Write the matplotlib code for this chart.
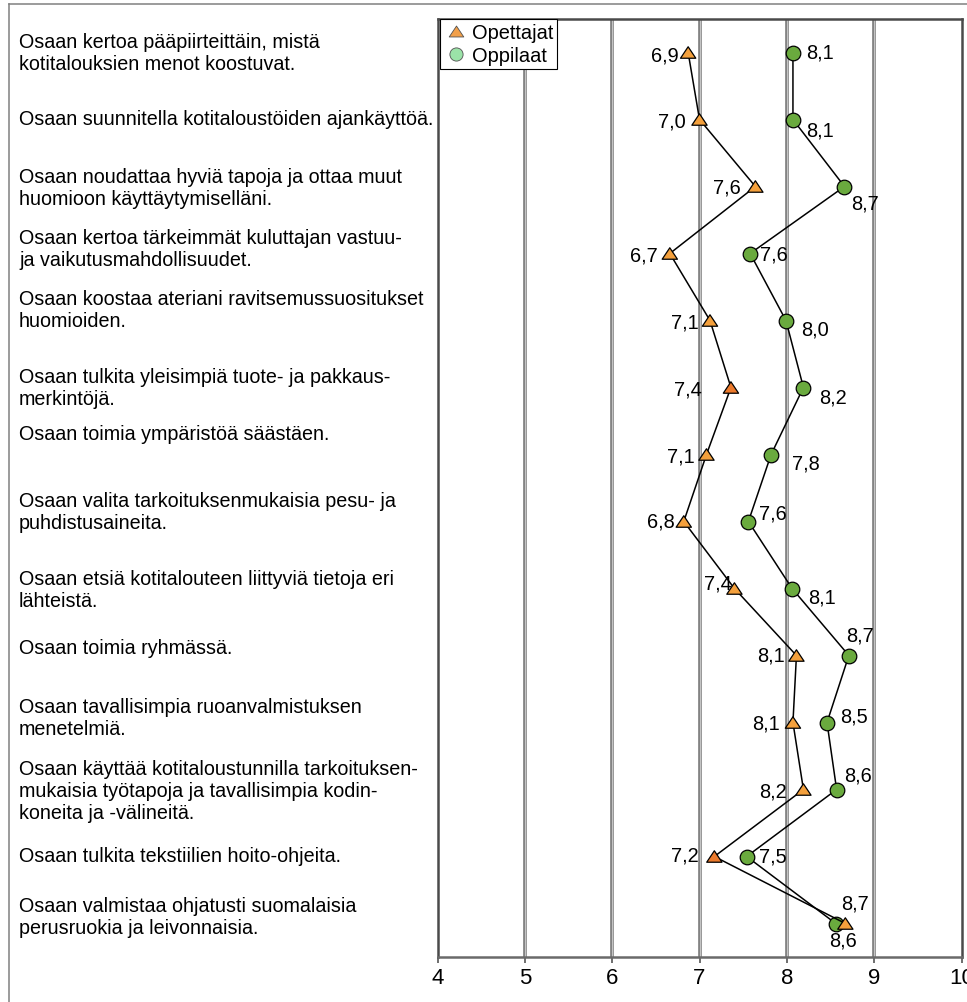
import matplotlib
matplotlib.use('Agg')
import matplotlib.pyplot as plt
from matplotlib.lines import Line2D
from matplotlib.path import Path
import matplotlib.transforms as mtransforms
import numpy as np

plt.rcParams['font.family'] = ['Liberation Sans', 'DejaVu Sans']

# ---------------- data ----------------
categories = [
    "Osaan kertoa pääpiirteittäin, mistä\nkotitalouksien menot koostuvat.",
    "Osaan suunnitella kotitaloustöiden ajankäyttöä.",
    "Osaan noudattaa hyviä tapoja ja ottaa muut\nhuomioon käyttäytymiselläni.",
    "Osaan kertoa tärkeimmät kuluttajan vastuu-\nja vaikutusmahdollisuudet.",
    "Osaan koostaa ateriani ravitsemussuositukset\nhuomioiden.",
    "Osaan tulkita yleisimpiä tuote- ja pakkaus-\nmerkintöjä.",
    "Osaan toimia ympäristöä säästäen.",
    "Osaan valita tarkoituksenmukaisia pesu- ja\npuhdistusaineita.",
    "Osaan etsiä kotitalouteen liittyviä tietoja eri\nlähteistä.",
    "Osaan toimia ryhmässä.",
    "Osaan tavallisimpia ruoanvalmistuksen\nmenetelmiä.",
    "Osaan käyttää kotitaloustunnilla tarkoituksen-\nmukaisia työtapoja ja tavallisimpia kodin-\nkoneita ja -välineitä.",
    "Osaan tulkita tekstiilien hoito-ohjeita.",
    "Osaan valmistaa ohjatusti suomalaisia\nperusruokia ja leivonnaisia.",
]
opettajat = [6.87, 7.00, 7.64, 6.66, 7.12, 7.36, 7.08, 6.82, 7.40, 8.11, 8.07, 8.19, 7.17, 8.67]
oppilaat = [8.07, 8.07, 8.66, 7.58, 7.99, 8.19, 7.82, 7.56, 8.06, 8.71, 8.46, 8.57, 7.54, 8.56]
series_names = ["Opettajat", "Oppilaat"]
x_ticks = [4, 5, 6, 7, 8, 9, 10]

# ---------------- layout (pixels) ----------------
W, H = 967, 1003
ax_left, ax_right, ax_top, ax_bottom = 437.5, 961.5, 20, 958
# vertical shift of left-hand text blocks (px, down positive)
text_dy = [0, -1, 1, -5, -11, 0, -21, -10, 1, -8, -5, 1, -1, -7]
# data-label offsets relative to marker (px, right / down positive)
opet_lbl = [(-23, 1), (-28, 0), (-29, -1.5), (-26, 0), (-25, 0), (-43, 0), (-26, 0),
            (-23, -2), (-16, -7), (-25, -1.5), (-27, -1.5), (-30, 0), (-29, -3.5), (10, -22)]
oppi_lbl = [(27, -2), (27, 9), (21, 15), (24, -1), (29, 7), (30, 8), (35, 7),
            (24, -10), (30, 7), (11, -22), (27, -8), (21, -16), (26, -2), (7, 15)]
opet_fill = ['#F4A03C'] * 14
opet_fill[5] = '#EC7A2C'
opet_fill[12] = '#EC7A2C'

fig = plt.figure(figsize=(W / 100, H / 100), dpi=100)
fig.patch.set_facecolor('white')
ax = fig.add_axes([ax_left / W, 1 - ax_bottom / H, (ax_right - ax_left) / W, (ax_bottom - ax_top) / H])

rows = np.arange(len(categories))
ax.set_xlim(x_ticks[0], x_ticks[-1])
ax.set_ylim(len(categories) - 0.5, -0.5)

# gridlines (double-line look)
for xv in x_ticks[1:-1]:
    ax.axvline(xv, color='#7a7a7a', lw=2.6, zorder=1)
    ax.axvline(xv, color='#c4c4c4', lw=0.9, zorder=1.1)

tri = Path([(-1, -0.75), (1, -0.75), (0, 0.75), (-1, -0.75)],
           [Path.MOVETO, Path.LINETO, Path.LINETO, Path.CLOSEPOLY])

# series: Oppilaat first (under), then Opettajat
ax.plot(oppilaat, rows, color='black', lw=1.1, zorder=3)
ax.scatter(oppilaat, rows, marker='o', s=10.5 ** 2, facecolor='#6AAA3E',
           edgecolor='black', linewidth=0.9, zorder=4)
ax.plot(opettajat, rows, color='black', lw=1.1, zorder=5)
ax.scatter(opettajat, rows, marker=tri, s=11.0 ** 2, facecolor=opet_fill,
           edgecolor='black', linewidth=0.9, zorder=6)

def fmt(v):
    return f"{v:.1f}".replace('.', ',')

for vals, offs in ((opettajat, opet_lbl), (oppilaat, oppi_lbl)):
    for i, v in enumerate(vals):
        dx, dy = offs[i]
        ax.annotate(fmt(v), xy=(v, i), xytext=(dx, -(dy + 7)), textcoords='offset pixels',
                    ha='center', va='baseline', fontsize=14.4, color='black', zorder=7)

# category texts on the left
blend = mtransforms.blended_transform_factory(fig.transFigure, ax.transData)
for i, txt in enumerate(categories):
    ax.annotate(txt, xy=(19 / W, i), xycoords=blend, xytext=(0, -text_dy[i]),
                textcoords='offset pixels', ha='left', va='center', fontsize=14.2,
                color='black', linespacing=1.2, annotation_clip=False)

# axes styling
ax.set_yticks([])
ax.set_xticks(x_ticks)
ax.set_xticklabels([str(t) for t in x_ticks], fontsize=16)
ax.tick_params(axis='x', direction='out', length=4, width=1.2, color='#555555', pad=3)
for side in ['left', 'right', 'top', 'bottom']:
    ax.spines[side].set_color('#4a4a4a')
    ax.spines[side].set_linewidth(1.8)
ax.spines['bottom'].set_color('#6a6a6a')

# legend
handles = [
    Line2D([], [], ls='none', marker=tri, markersize=10.5, markerfacecolor='#F2A04A',
           markeredgecolor='#505050', markeredgewidth=0.6),
    Line2D([], [], ls='none', marker='o', markersize=9.5, markerfacecolor='#9BE3A8',
           markeredgecolor='#505050', markeredgewidth=0.6),
]
leg = ax.legend(handles, series_names, loc='upper left', bbox_to_anchor=(2.5 / (ax_right - ax_left), 1),
                borderaxespad=0, frameon=True, fancybox=False, edgecolor='black', framealpha=1,
                fontsize=14.4, borderpad=0.2, labelspacing=0.2, handlelength=1.2,
                handletextpad=0.2)
leg.get_frame().set_linewidth(0.8)
leg.set_zorder(10)

# outer border of the chart area
fig.add_artist(Line2D([9 / W, 1], [1 - 5 / H, 1 - 5 / H], transform=fig.transFigure,
                      color='#808080', lw=1.1))
fig.add_artist(Line2D([9 / W, 9 / W], [0, 1 - 5 / H], transform=fig.transFigure,
                      color='#808080', lw=1.1))

fig.savefig('out.png', dpi=100)
